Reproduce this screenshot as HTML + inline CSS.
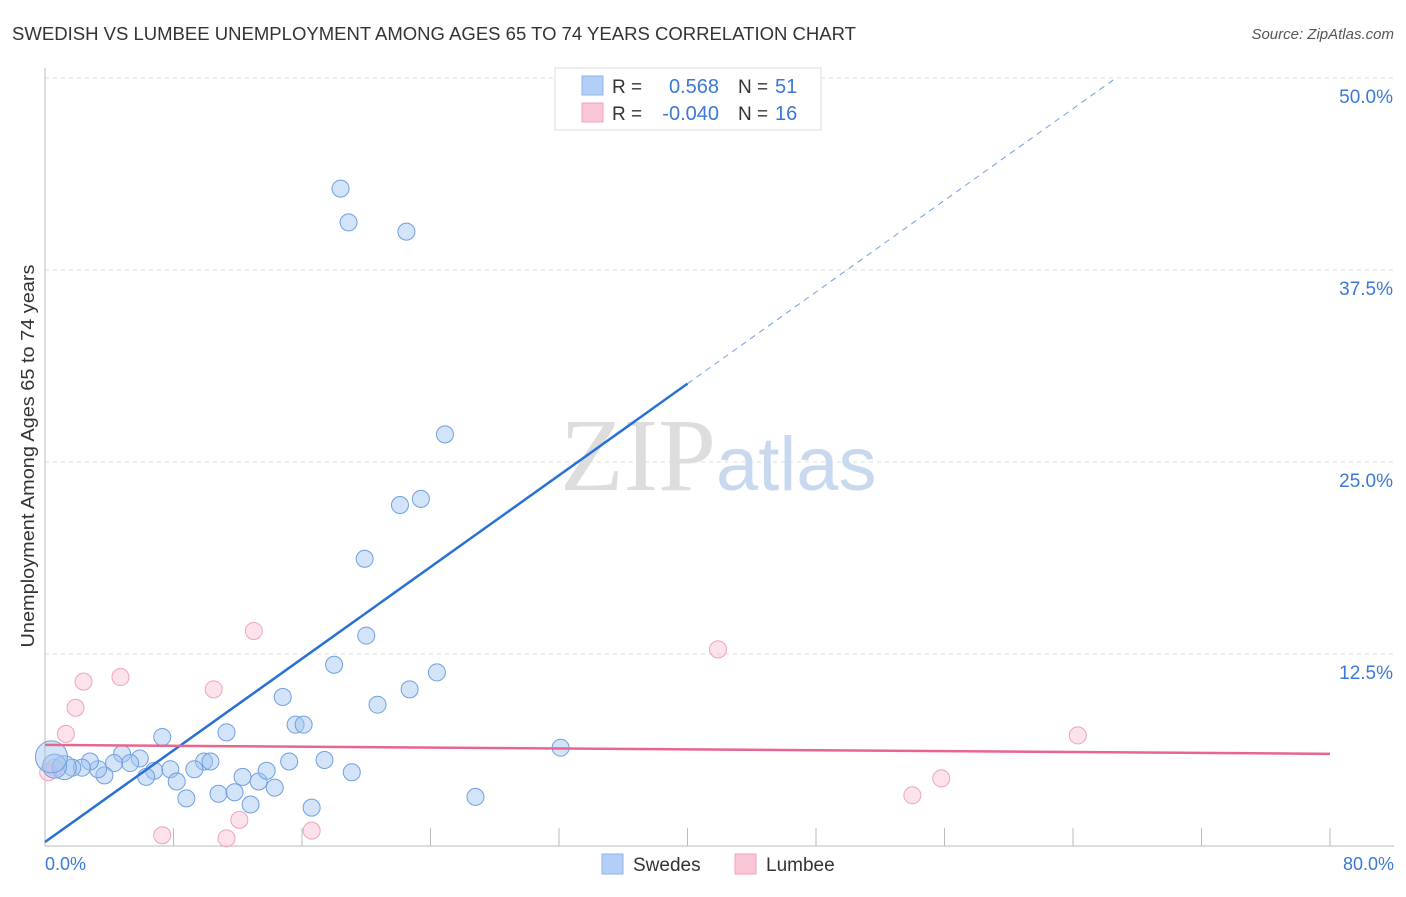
<!DOCTYPE html>
<html><head><meta charset="utf-8"><style>
body{margin:0;background:#fff;font-family:"Liberation Sans",sans-serif}
</style></head><body>
<svg width="1406" height="892" xmlns="http://www.w3.org/2000/svg">
<text x="12" y="40" font-size="18" fill="#333" textLength="844" lengthAdjust="spacingAndGlyphs">SWEDISH VS LUMBEE UNEMPLOYMENT AMONG AGES 65 TO 74 YEARS CORRELATION CHART</text>
<text x="1394" y="39" font-size="15" fill="#555" font-style="italic" text-anchor="end">Source: ZipAtlas.com</text>
<text x="0" y="0" font-size="18" fill="#333" transform="translate(34,456) rotate(-90)" text-anchor="middle" textLength="383" lengthAdjust="spacingAndGlyphs">Unemployment Among Ages 65 to 74 years</text>
<g id="grid"></g>
<text x="716" y="490" font-size="104" fill="#ddd" font-family="Liberation Serif" text-anchor="end">ZIP</text>
<text x="716" y="490" font-size="76" fill="#c8d8ef">atlas</text>
<g id="marks"></g>
<g>
<rect x="555" y="68" width="266" height="62" fill="#fff" stroke="#ddd"/>
<rect x="582" y="76" width="21" height="19" fill="#b3cff5" stroke="#8fb6ea"/>
<rect x="582" y="103" width="21" height="19" fill="#f9c6d5" stroke="#f0a3bb"/>
<text x="612" y="93" font-size="19" fill="#333">R = </text><text x="719" y="93" font-size="20" fill="#3b78d8" text-anchor="end">0.568</text>
<text x="738" y="93" font-size="19" fill="#333">N = </text><text x="775" y="93" font-size="20" fill="#3b78d8">51</text>
<text x="612" y="120" font-size="19" fill="#333">R = </text><text x="719" y="120" font-size="20" fill="#3b78d8" text-anchor="end">-0.040</text>
<text x="738" y="120" font-size="19" fill="#333">N = </text><text x="775" y="120" font-size="20" fill="#3b78d8">16</text>
</g>
<g>
<rect x="602" y="854" width="21" height="20" fill="#b3cff5" stroke="#8fb6ea"/>
<text x="633" y="871" font-size="19" fill="#333">Swedes</text>
<rect x="735" y="854" width="21" height="20" fill="#f9c6d5" stroke="#f0a3bb"/>
<text x="766" y="871" font-size="19" fill="#333">Lumbee</text>
</g>
</svg>
<script>
const yTicks=[12.5,25.0,37.5,50.0];
const xTickLabels=["0.0%","80.0%"];
const swedesX=[18.4,18.9,22.5,36.6,24.9,22.1,23.4,19.9,20.0,18.0,24.4,22.7,20.7,14.8,15.6,16.1,11.3,7.3,32.1,26.8,16.6,8.8,10.8,11.8,12.8,14.3,12.3,13.3,13.8,15.2,17.4,19.1,9.9,10.3,9.3,7.8,6.8,6.3,8.2,5.9,4.8,5.3,4.3,3.7,3.3,2.8,2.3,1.7,1.2,0.6,0.4];
const swedesY=[42.8,40.6,40.0,50.0,26.8,22.2,22.6,18.7,13.7,11.8,11.3,10.2,9.2,9.7,7.9,7.9,7.4,7.1,6.4,3.2,2.5,3.1,3.4,3.5,2.7,3.8,4.5,4.2,4.9,5.5,5.6,4.8,5.5,5.5,5.0,5.0,4.9,4.5,4.2,5.7,6.0,5.4,5.4,4.6,5.0,5.5,5.1,5.1,5.1,5.2,5.8];
const swedesR=[8.5,8.5,8.5,8.5,8.5,8.5,8.5,8.5,8.5,8.5,8.5,8.5,8.5,8.5,8.5,8.5,8.5,8.5,8.5,8.5,8.5,8.5,8.5,8.5,8.5,8.5,8.5,8.5,8.5,8.5,8.5,8.5,8.5,8.5,8.5,8.5,8.5,8.5,8.5,8.5,8.5,8.5,8.5,8.5,8.5,8.5,8.5,8.5,12,12,16];
const lumbeeX=[13.0,41.9,4.7,10.5,2.4,1.9,1.3,64.3,55.8,54.0,12.1,7.3,11.3,16.6,0.6,0.2];
const lumbeeY=[14.0,12.8,11.0,10.2,10.7,9.0,7.3,7.2,4.4,3.3,1.7,0.7,0.5,1.0,5.1,4.8];
const blueTrend=[0.26,0.746]; // intercept, slope (%)
const pinkTrend=[6.58,6.0]; // y at 0%, y at 80%
const NS="http://www.w3.org/2000/svg";
const X=v=>45+v*1285/80, Y=v=>846-v*15.36;
function mk(t,a,p){const e=document.createElementNS(NS,t);for(const k in a)e.setAttribute(k,a[k]);p.appendChild(e);return e;}
const grid=document.getElementById('grid'), marks=document.getElementById('marks');
yTicks.forEach(t=>{
 const l=mk('line',{x1:45,x2:1394,y1:Y(t),y2:Y(t),stroke:'#ddd','stroke-dasharray':'4,4'},grid);
 
 
 const tx=mk('text',{x:1393,y:Y(t)+25,'font-size':19,fill:'#3b78d8','text-anchor':'end'},grid);
 tx.textContent=t.toFixed(1)+'%';
 
 
});
const ax=mk('line',{x1:45,x2:45,y1:68,y2:846,stroke:'#bbb'},grid);


const bx=mk('line',{x1:45,x2:1394,y1:846,y2:846,stroke:'#bbb'},grid);


for(let i=1;i<=10;i++){const t=mk('line',{x1:X(i*8),x2:X(i*8),y1:828,y2:846,stroke:'#bbb'},grid);
 
 }
[[0,'start',45],[80,'end',1394]].forEach((d,i)=>{const t=mk('text',{x:d[2],y:870,'font-size':18,fill:'#3b78d8','text-anchor':d[1]},grid);t.textContent=xTickLabels[i];
 
 });
lumbeeX.forEach((v,i)=>{const c=mk('circle',{cx:X(v),cy:Y(lumbeeY[i]),r:8.5,fill:'rgba(249,190,210,0.45)',stroke:'#f0a3bb'},marks);
 
 });
swedesX.forEach((v,i)=>{const c=mk('circle',{cx:X(v),cy:Y(swedesY[i]),r:swedesR[i],fill:'rgba(160,195,240,0.45)',stroke:'#6f9fe0'},marks);
 
 });
const b1=mk('line',{x1:X(0),y1:Y(blueTrend[0]),x2:X(40),y2:Y(blueTrend[0]+40*blueTrend[1]),stroke:'#2a6fd6','stroke-width':2.5},marks);


const xe=(50-blueTrend[0])/blueTrend[1];
const b2=mk('line',{x1:X(40),y1:Y(blueTrend[0]+40*blueTrend[1]),x2:X(xe),y2:Y(50),stroke:'#6f9fe0','stroke-width':1,'stroke-dasharray':'6,5'},marks);


const p1=mk('line',{x1:X(0),y1:Y(pinkTrend[0]),x2:X(80),y2:Y(pinkTrend[1]),stroke:'#e8668e','stroke-width':2.5},marks);


</script>
</body></html>
